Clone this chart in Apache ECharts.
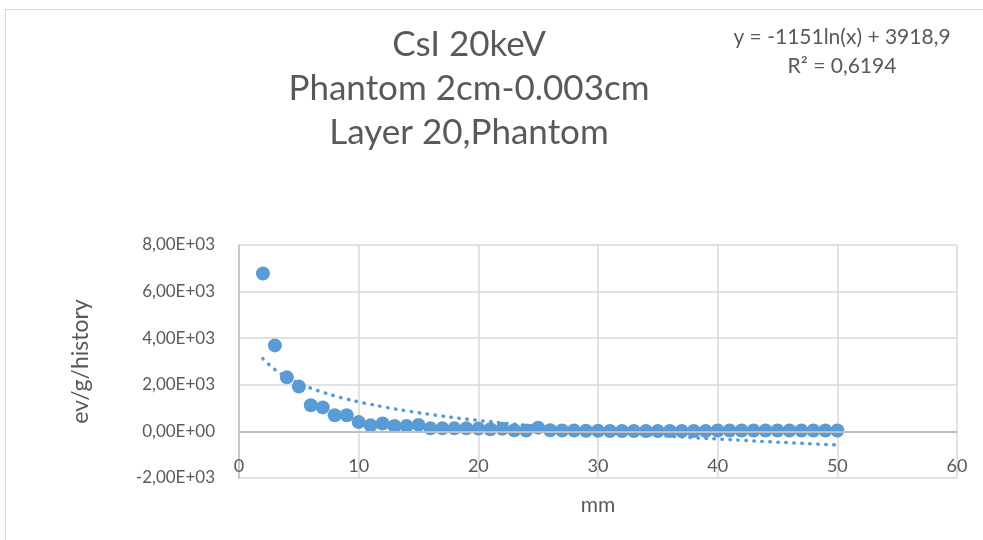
<!DOCTYPE html>
<html>
<head>
<meta charset="utf-8">
<script src="https://cdn.jsdelivr.net/npm/echarts@6/dist/echarts.min.js"></script>
<style>
    html, body { margin: 0; padding: 0; background: #fff; }
    #chart { width: 983px; height: 540px; }
</style>
</head>
<body>
<div id="chart"></div>
<script>
// distance in mm
const xValues = [2, 3, 4, 5, 6, 7, 8, 9, 10, 11, 12, 13, 14, 15, 16, 17, 18, 19, 20,
    21, 22, 23, 24, 25, 26, 27, 28, 29, 30, 31, 32, 33, 34, 35, 36, 37, 38, 39, 40,
    41, 42, 43, 44, 45, 46, 47, 48, 49, 50];
// dose, ev/g/history
const doseValues = [6780, 3690, 2320, 1930, 1120, 1030, 690, 690, 400, 260, 340, 230, 230, 280, 130, 130, 130, 130, 120,
    90, 110, 50, 40, 160, 50, 40, 40, 30, 30, 20, 20, 20, 20, 20, 20, 20, 20, 20, 40,
    40, 40, 40, 40, 40, 40, 40, 40, 40, 40];
// log trendline as given on the chart: y = a*ln(x) + b
const trendA = -1151;
const trendB = 3918.9;
const xTicks = { min: 0, max: 60, interval: 10 };
const yTicks = { min: -2000, max: 8000, interval: 2000 };

const font = 'Lato, "Open Sans", sans-serif';
const textColor = '#595959';

function sci(v) {
    if (v === 0) return '0,00E+00';
    const e = Math.floor(Math.log10(Math.abs(v)));
    const m = v / Math.pow(10, e);
    return m.toFixed(2).replace('.', ',') + 'E' + (e < 0 ? '-' : '+') + String(Math.abs(e)).padStart(2, '0');
}

const points = xValues.map((x, i) => [x, doseValues[i]]);
const trend = xValues.map(x => [x, trendA * Math.log(x) + trendB]);

const myChart = echarts.init(document.getElementById('chart'));

const option = {
    backgroundColor: '#fff',
    animation: false,
    title: [
        {
            text: 'CsI 20keV\nPhantom 2cm-0.003cm\nLayer 20,Phantom',
            left: 464,
            top: 18,
            textAlign: 'center',
            textStyle: {
                color: textColor,
                fontFamily: font,
                fontWeight: 'normal',
                fontSize: 35,
                lineHeight: 44
            }
        },
        {
            text: 'y = -1151ln(x) + 3918,9\nR² = 0,6194',
            left: 837,
            top: 18,
            textAlign: 'center',
            textStyle: {
                color: textColor,
                fontFamily: font,
                fontWeight: 'normal',
                fontSize: 21,
                lineHeight: 29
            }
        }
    ],
    graphic: [
        {
            type: 'rect',
            shape: { x: 5.5, y: 9.5, width: 1000, height: 600 },
            style: { fill: 'none', stroke: '#d9d9d9', lineWidth: 1 },
            silent: true
        }
    ],
    grid: {
        left: 239,
        right: 26,
        top: 245,
        bottom: 62
    },
    xAxis: {
        type: 'value',
        min: xTicks.min,
        max: xTicks.max,
        interval: xTicks.interval,
        name: 'mm',
        nameLocation: 'middle',
        nameGap: 17,
        nameTextStyle: { color: textColor, fontFamily: font, fontSize: 21 },
        axisLine: { show: false },
        axisTick: { show: false },
        axisLabel: {
            color: textColor,
            fontFamily: font,
            fontSize: 18,
            margin: -21
        },
        splitLine: { lineStyle: { color: '#d9d9d9', width: 1.5 } }
    },
    yAxis: {
        type: 'value',
        min: yTicks.min,
        max: yTicks.max,
        interval: yTicks.interval,
        name: 'ev/g/history',
        nameLocation: 'middle',
        nameRotate: 90,
        nameGap: 147,
        nameTextStyle: { color: textColor, fontFamily: font, fontSize: 23 },
        axisLine: { show: true, onZero: false, lineStyle: { color: '#bfbfbf', width: 1.5 } },
        axisTick: { show: false },
        axisLabel: {
            color: textColor,
            fontFamily: font,
            fontSize: 17,
            margin: 24,
            formatter: sci
        },
        splitLine: { lineStyle: { color: '#d9d9d9', width: 1.5 } }
    },
    series: [
        {
            name: 'dose',
            type: 'scatter',
            symbolSize: 14,
            itemStyle: { color: '#5b9bd5', opacity: 1 },
            data: points,
            markLine: {
                silent: true,
                symbol: 'none',
                label: { show: false },
                lineStyle: { color: '#bfbfbf', type: 'solid', width: 2 },
                data: [{ yAxis: 0 }]
            },
            z: 2
        },
        {
            name: 'trend',
            type: 'line',
            smooth: true,
            showSymbol: false,
            lineStyle: {
                color: '#5b9bd5',
                width: 3.5,
                type: [0.5, 7.5],
                cap: 'round'
            },
            data: trend,
            z: 3
        }
    ]
};

myChart.setOption(option);
</script>
</body>
</html>
